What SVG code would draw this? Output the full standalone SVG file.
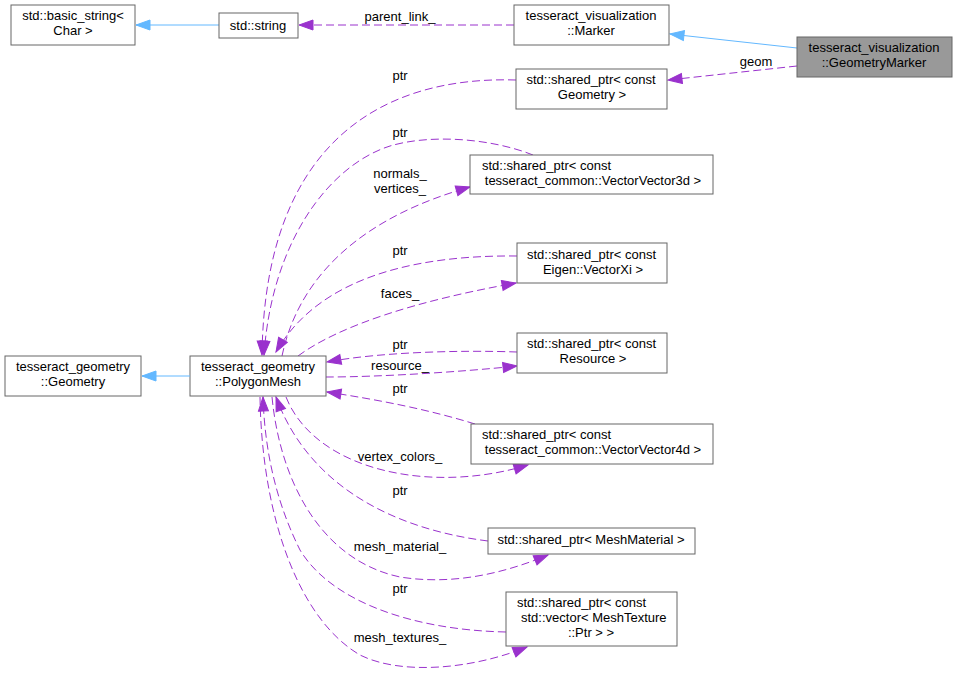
<svg xmlns="http://www.w3.org/2000/svg" width="957" height="674" viewBox="0 0 957 674">
<style>
.node rect{fill:#ffffff;stroke:#666666;stroke-width:1}
.node.hl rect{fill:#999999}
text{font-family:"Liberation Sans",Arial,Helvetica,sans-serif;font-size:13px;fill:#000000}
.c{text-anchor:middle}
.s{text-anchor:start}
.inh{fill:none;stroke:#63b8ff;stroke-width:1}
.use{fill:none;stroke:#9a32cd;stroke-width:1;stroke-dasharray:8,4}
</style>
<defs>
<marker id="ab" markerUnits="userSpaceOnUse" markerWidth="16" markerHeight="12" refX="14" refY="5" orient="auto" overflow="visible">
<path d="M0,0 L14,5 L0,10 z" fill="#63b8ff" stroke="#63b8ff"/>
</marker>
<marker id="ap" markerUnits="userSpaceOnUse" markerWidth="16" markerHeight="12" refX="14" refY="5" orient="auto" overflow="visible">
<path d="M0,0 L14,5 L0,10 z" fill="#9a32cd" stroke="#9a32cd"/>
</marker>
</defs>
<rect width="957" height="674" fill="#ffffff"/>
<g id="connectors">
<path class="inh" d="M219,25 L136,25" marker-end="url(#ab)"/>
<path class="inh" d="M797,48 L670,34" marker-end="url(#ab)"/>
<path class="use" d="M514,25 L299,25" marker-end="url(#ap)"/>
<path class="use" d="M797,66 L668,80" marker-end="url(#ap)"/>
<path class="use" d="M516,80 C390,76 265,135 262,355" marker-end="url(#ap)"/>
<path class="use" d="M533,155 C490,138 430,134 390,146 C330,165 272,240 264,355" marker-end="url(#ap)"/>
<path class="use" d="M282,356 C300,270 370,215 470,187" marker-end="url(#ap)"/>
<path class="use" d="M517,256 C420,255 320,275 276,352" marker-end="url(#ap)"/>
<path class="use" d="M298,356 C340,325 420,300 516,283" marker-end="url(#ap)"/>
<path class="use" d="M517,352 C460,350 380,352 327,362" marker-end="url(#ap)"/>
<path class="use" d="M326,377 C380,377 460,372 517,366" marker-end="url(#ap)"/>
<path class="use" d="M475,424 C430,410 380,400 327,392" marker-end="url(#ap)"/>
<path class="use" d="M286,397 C315,470 430,495 528,465" marker-end="url(#ap)"/>
<path class="use" d="M488,541 C400,530 310,490 276,397" marker-end="url(#ap)"/>
<path class="use" d="M272,397 C280,480 320,560 400,577 C450,585 500,575 548,555" marker-end="url(#ap)"/>
<path class="use" d="M506,632 C410,630 330,600 300,550 C280,510 265,460 263,397" marker-end="url(#ap)"/>
<path class="use" d="M260,397 C262,520 300,620 360,655 C400,675 470,670 527,647" marker-end="url(#ap)"/>
<text class="c" x="400" y="21">parent_link_</text>
<text class="c" x="756" y="66">geom</text>
<text class="c" x="400" y="80">ptr</text>
<text class="c" x="400" y="137">ptr</text>
<text class="c" x="400" y="178">normals_</text>
<text class="c" x="400" y="193">vertices_</text>
<text class="c" x="400" y="255">ptr</text>
<text class="c" x="400" y="298">faces_</text>
<text class="c" x="400" y="349">ptr</text>
<text class="c" x="400" y="370">resource_</text>
<text class="c" x="400" y="393">ptr</text>
<text class="c" x="400" y="461">vertex_colors_</text>
<text class="c" x="400" y="495">ptr</text>
<text class="c" x="400" y="551">mesh_material_</text>
<text class="c" x="400" y="593">ptr</text>
<text class="c" x="400" y="642">mesh_textures_</text>
</g>
<g id="basic_string" class="node"><rect x="11" y="5" width="124" height="40"/><text class="c" x="73" y="20">std::basic_string&lt;</text><text class="c" x="73" y="35">Char &gt;</text></g>
<g id="std_string" class="node"><rect x="219" y="13" width="79" height="25"/><text class="c" x="258" y="30">std::string</text></g>
<g id="marker" class="node"><rect x="514" y="5" width="155" height="40"/><text class="c" x="591" y="20">tesseract_visualization</text><text class="c" x="591" y="35">::Marker</text></g>
<g id="geometry_marker" class="node hl"><rect x="797" y="37" width="155" height="40"/><text class="c" x="874" y="52">tesseract_visualization</text><text class="c" x="874" y="67">::GeometryMarker</text></g>
<g id="sp_geometry" class="node"><rect x="516" y="69" width="151" height="40"/><text class="c" x="591" y="84">std::shared_ptr&lt; const</text><text class="c" x="592" y="99">Geometry &gt;</text></g>
<g id="sp_vv3d" class="node"><rect x="470" y="155" width="243" height="39"/><text class="s" x="482" y="170">std::shared_ptr&lt; const</text><text class="c" x="593" y="185">tesseract_common::VectorVector3d &gt;</text></g>
<g id="sp_vectorxi" class="node"><rect x="517" y="243" width="150" height="40"/><text class="s" x="527" y="259">std::shared_ptr&lt; const</text><text class="c" x="593" y="274">Eigen::VectorXi &gt;</text></g>
<g id="sp_resource" class="node"><rect x="517" y="333" width="150" height="40"/><text class="s" x="527" y="348">std::shared_ptr&lt; const</text><text class="c" x="593" y="363">Resource &gt;</text></g>
<g id="sp_vv4d" class="node"><rect x="471" y="424" width="242" height="40"/><text class="s" x="482" y="439">std::shared_ptr&lt; const</text><text class="c" x="593" y="454">tesseract_common::VectorVector4d &gt;</text></g>
<g id="sp_meshmaterial" class="node"><rect x="488" y="528" width="207" height="26"/><text class="c" x="591" y="544">std::shared_ptr&lt; MeshMaterial &gt;</text></g>
<g id="sp_meshtexture" class="node"><rect x="506" y="592" width="171" height="54"/><text class="s" x="517" y="607">std::shared_ptr&lt; const</text><text class="s" x="521" y="622">std::vector&lt; MeshTexture</text><text class="c" x="591" y="637">::Ptr &gt; &gt;</text></g>
<g id="geometry" class="node"><rect x="5" y="356" width="136" height="40"/><text class="c" x="73" y="371">tesseract_geometry</text><text class="c" x="73" y="386">::Geometry</text></g>
<g id="polygon_mesh" class="node"><rect x="190" y="356" width="136" height="40"/><text class="c" x="258" y="371">tesseract_geometry</text><text class="c" x="258" y="386">::PolygonMesh</text></g>
<g id="inherit_link"><path class="inh" d="M190,376 L142,376" marker-end="url(#ab)"/></g>
</svg>
